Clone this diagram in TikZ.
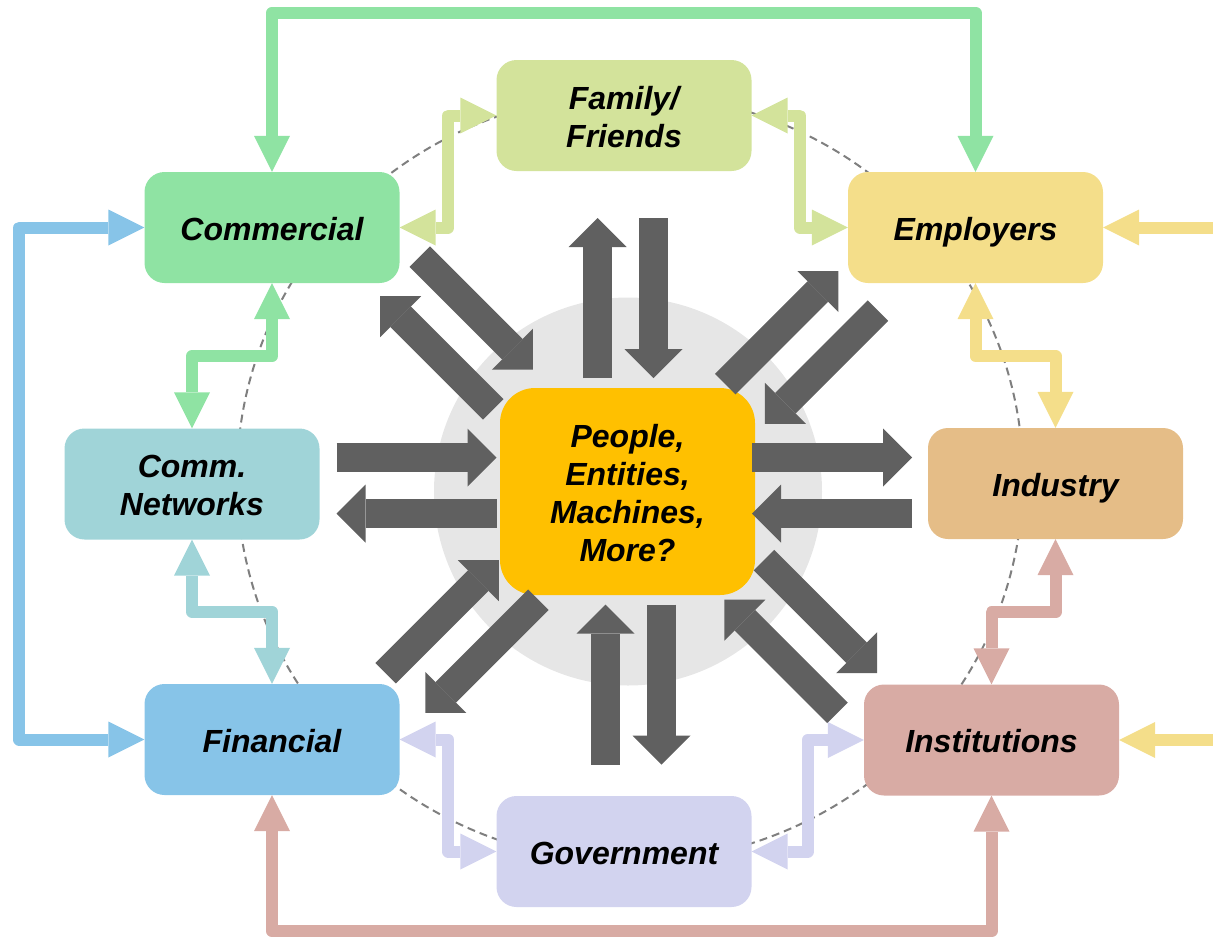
\documentclass[tikz,border=0pt]{standalone}
\usepackage{fontspec}
\setmainfont{Liberation Sans}
\usepackage{xcolor}
\usepackage{tikz}
\usetikzlibrary{arrows.meta}
\usetikzlibrary{calc}

\definecolor{corecol}{HTML}{FFC000}
\definecolor{famcol}{HTML}{D3E39B}
\definecolor{comcol}{HTML}{8FE3A3}
\definecolor{empcol}{HTML}{F4DE8A}
\definecolor{netcol}{HTML}{A0D4D8}
\definecolor{indcol}{HTML}{E5BD87}
\definecolor{fincol}{HTML}{87C4E8}
\definecolor{instcol}{HTML}{D8ABA4}
\definecolor{govcol}{HTML}{D2D3EF}
\definecolor{flowgrey}{HTML}{606060}
\definecolor{discgrey}{HTML}{E6E6E6}
\definecolor{ringgrey}{HTML}{7F7F7F}

% struts so that every label sits on the same baseline
\newcommand{\hitop}{\rule{0pt}{33pt}}
\newcommand{\lobot}{\rule[-8pt]{0pt}{8pt}}

\tikzstyle{stackbox} =[rounded corners=20pt, minimum width=255pt, minimum height=111pt, inner sep=0pt, align=center, font=\fontsize{32}{38}\selectfont\bfseries\itshape]
\tikzstyle{box} =[stackbox, execute at begin node=\hitop, execute at end node=\lobot]
\tikzstyle{flowarrow} =[line width=29pt, draw=flowgrey, -{Triangle[length=29pt, width=58pt, line width=0pt]}]
\tikzstyle{linkarrow} =[line width=12pt, line join=round, {Triangle[length=36pt, width=36pt, line width=0pt]}-{Triangle[length=36pt, width=36pt, line width=0pt]}]
\tikzstyle{feedarrow} =[line width=12pt, -{Triangle[length=36pt, width=36pt, line width=0pt]}]

\begin{document}
\begin{tikzpicture}[x=1pt, y=-1pt]
		\useasboundingbox (0,0) rectangle (1213,938);
		% grey disc and dashed ring behind everything
		\fill[discgrey] (628,491.5) circle (194pt);
		\draw[ringgrey, line width=2pt, dash pattern=on 8pt off 5pt] (630,478) ellipse [x radius=393pt, y radius=384pt];
		
		\node (core)[stackbox, fill=corecol, minimum height=207pt, rounded corners=35pt] at (627.5,491.5) {\hitop People,\\Entities,\\Machines,\\More?\lobot};
		\node (fam)[stackbox, fill=famcol] at (624,115.5) {\hitop Family/\\Friends\lobot};
		\node (comm)[box, fill=comcol] at (272,227.5) {Commercial};
		\node (emp)[box, fill=empcol] at (975.5,227.5) {Employers};
		\node (cnet)[stackbox, fill=netcol] at (192,484) {\hitop Comm.\\Networks\lobot};
		\node (ind)[box, fill=indcol] at (1055.5,483.5) {Industry};
		\node (fin)[box, fill=fincol] at (272,739.5) {Financial};
		\node (inst)[box, fill=instcol] at (991.5,740) {Institutions};
		\node (gov)[box, fill=govcol] at (624,851.5) {Government};
		
		% pairs of block arrows round the core: angle / distance / side shift
		\foreach \a/\r/\s in {0/204.5/-6, 45/225/-20, 90/193/-6, 135/219.5/14.5, 180/211/6, 225/233/-8.8, 270/193.5/-2, 315/225/21.2}{
			\pgfmathsetmacro\rn{\r-80}
			\pgfmathsetmacro\rf{\r+80}
			\pgfmathsetmacro\so{\s-28}
			\pgfmathsetmacro\si{\s+28}
			\draw[flowarrow] ($(core.center)+(\a:\rn)+(\a+90:\so)$) -- ($(core.center)+(\a:\rf)+(\a+90:\so)$);
			\draw[flowarrow] ($(core.center)+(\a:\rf)+(\a+90:\si)$) -- ($(core.center)+(\a:\rn)+(\a+90:\si)$);
		}
		
		% links between the outer boxes
		\draw[linkarrow, comcol] (comm.north) -- ++(0,-159) -| (emp.north);
		\draw[linkarrow, fincol] (comm.west) -- ++(-125,0) |- (fin.west);
		\draw[linkarrow, instcol] (fin.south) -- ++(0,136) -| (inst.south);
		\draw[linkarrow, famcol] (fam.west) -- ++(-48,0) |- (comm.east);
		\draw[linkarrow, famcol] (fam.east) -- ++(48,0) |- (emp.west);
		\draw[linkarrow, comcol] (comm.south) -- ++(0,73) -| (cnet.north);
		\draw[linkarrow, netcol] (cnet.south) -- ++(0,72) -| (fin.north);
		\draw[linkarrow, empcol] (emp.south) -- ++(0,73) -| (ind.north);
		\draw[linkarrow, instcol] (ind.south) -- ++(0,73) -| (inst.north);
		\draw[linkarrow, govcol] (gov.west) -- ++(-48,0) |- (fin.east);
		\draw[linkarrow, govcol] (gov.east) -- ++(56,0) |- (inst.west);
		
		% inputs from the right edge
		\coordinate (empIn) at (1215,227.5);
		\coordinate (instIn) at (1215,740);
		\draw[feedarrow, empcol] (empIn) -- (emp.east);
		\draw[feedarrow, empcol] (instIn) -- (inst.east);
		\end{tikzpicture}
\end{document}
